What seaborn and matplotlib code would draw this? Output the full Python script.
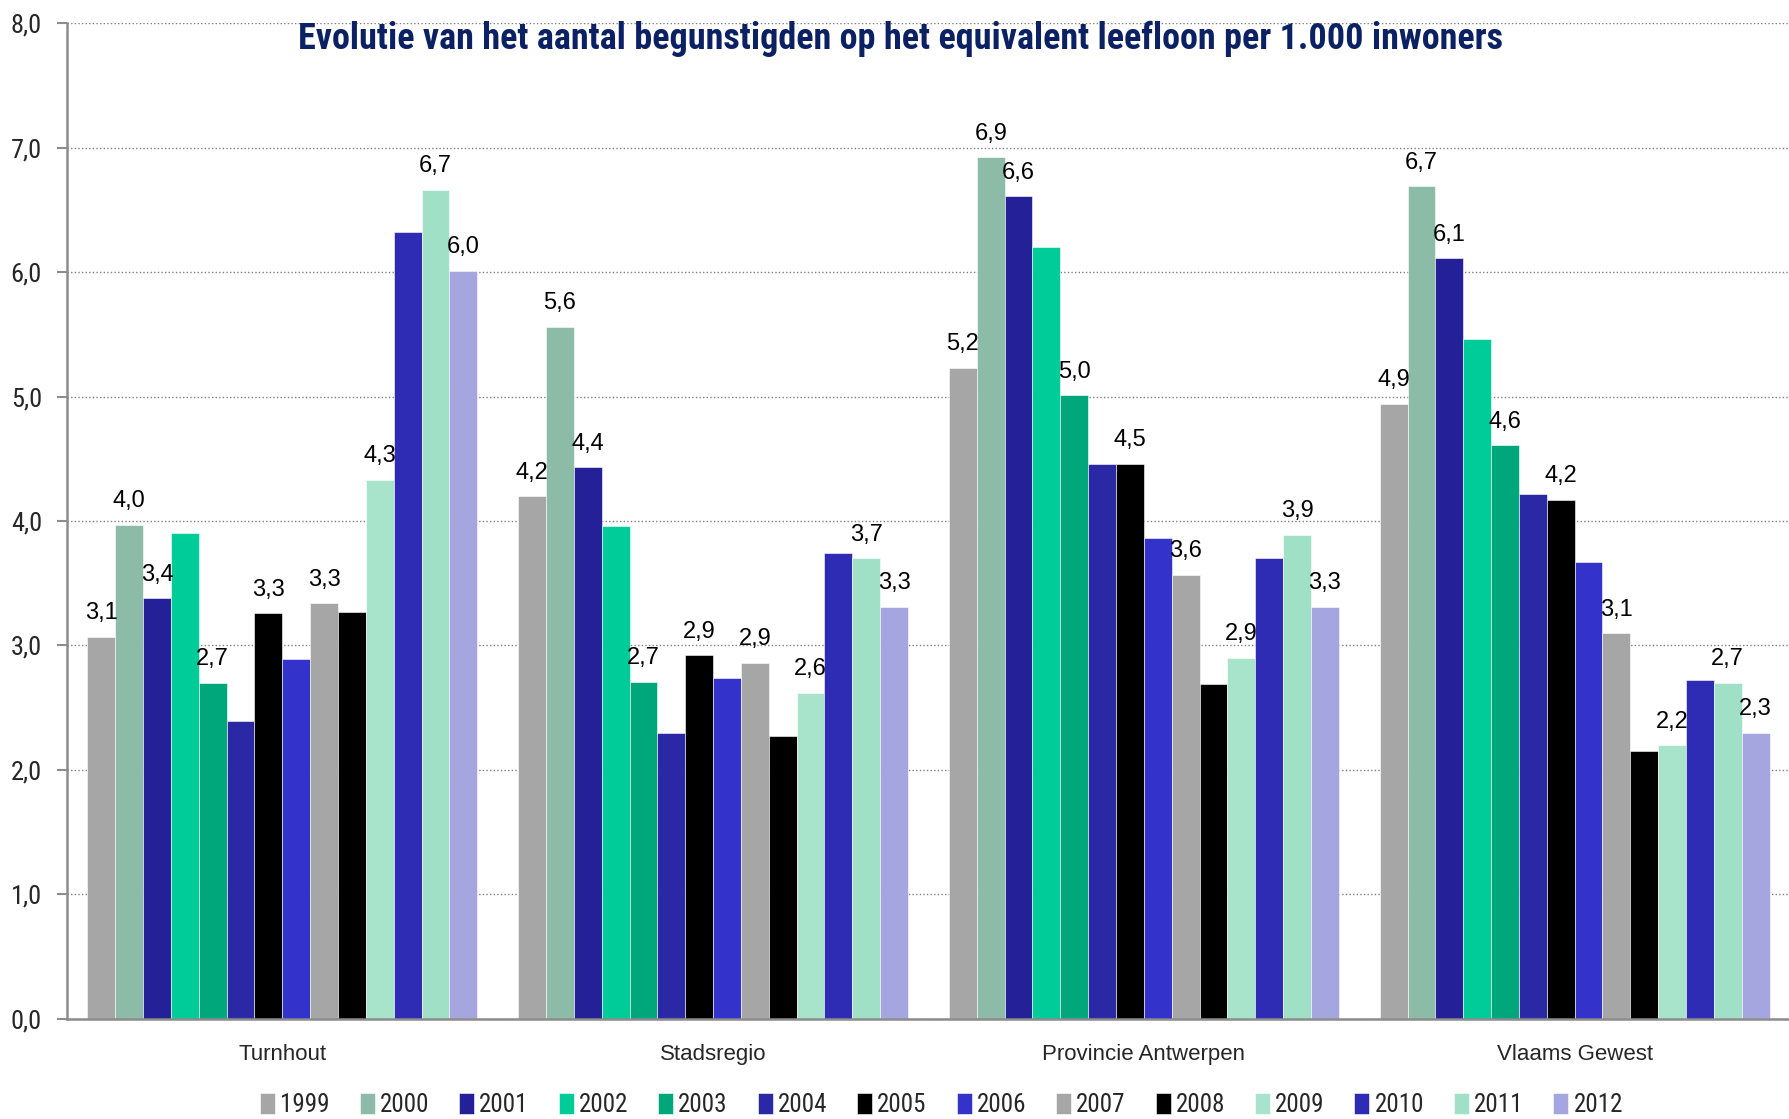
import pandas as pd
import matplotlib
matplotlib.use('Agg')
from matplotlib import pyplot as plt
from matplotlib import font_manager
import seaborn as sns

regios = ['Turnhout', 'Stadsregio', 'Provincie Antwerpen', 'Vlaams Gewest']
jaren = ['1999', '2000', '2001', '2002', '2003', '2004', '2005',
         '2006', '2007', '2008', '2009', '2010', '2011', '2012']

turnhout = [3.07, 3.97, 3.38, 3.90, 2.70, 2.39, 3.26, 2.89, 3.34, 3.27, 4.33, 6.32, 6.66, 6.01]
stadsregio = [4.20, 5.56, 4.43, 3.96, 2.71, 2.30, 2.92, 2.74, 2.86, 2.27, 2.62, 3.74, 3.70, 3.31]
provincie = [5.23, 6.92, 6.61, 6.20, 5.01, 4.46, 4.46, 3.86, 3.57, 2.69, 2.90, 3.70, 3.89, 3.31]
vlaanderen = [4.94, 6.69, 6.11, 5.46, 4.61, 4.22, 4.17, 3.67, 3.10, 2.15, 2.20, 2.72, 2.70, 2.30]

# years that get a value label in the original chart
gelabeld = ['1999', '2000', '2001', '2003', '2005', '2007', '2009', '2011', '2012']

kleuren = ['#A6A6A6', '#8CBBA8', '#232098', '#00CC99', '#00A77B', '#2B28A6', '#000000',
           '#3333CC', '#A6A6A6', '#000000', '#A8E3CB', '#2E2CB5', '#A0E0C6', '#A5A5DF']

rows = []
for regio, waarden in zip(regios, [turnhout, stadsregio, provincie, vlaanderen]):
    for jaar, w in zip(jaren, waarden):
        rows.append({'regio': regio, 'jaar': jaar, 'waarde': w})
df = pd.DataFrame(rows)

sns.set_style('white')

# narrow font for title, y ticks and legend (Arial Narrow look)
beschikbaar = {f.name for f in font_manager.fontManager.ttflist}
smal = 'Liberation Sans'
for kandidaat in ['Liberation Sans Narrow', 'Roboto Condensed', 'PT Sans Narrow', 'Archivo Narrow']:
    if kandidaat in beschikbaar:
        smal = kandidaat
        break
plt.rcParams['font.family'] = ['Liberation Sans', 'DejaVu Sans']

fig = plt.figure(figsize=(17.9, 11.19), dpi=100)
ax = fig.add_axes([0.0374, 0.0894, 0.9626, 0.89])

sns.barplot(data=df, x='regio', y='waarde', hue='jaar', palette=kleuren,
            width=0.905, saturation=1, ax=ax, legend=True,
            edgecolor='white', linewidth=0.4)

# value labels
for jaar, cont in zip(jaren, ax.containers):
    if jaar in gelabeld:
        labels = [('%.1f' % b.get_height()).replace('.', ',') for b in cont]
        ax.bar_label(cont, labels=labels, padding=9, fontsize=17, color='black')

ax.set_ylim(0, 8)
ax.set_xlim(-0.5, 3.5)
ax.set_yticks(range(0, 9))
ax.set_yticklabels([('%.1f' % v).replace('.', ',') for v in range(0, 9)],
                   fontsize=19, family=smal)
ax.yaxis.grid(True, linestyle=(0, (1, 1.6)), color='#7F7F7F', linewidth=1.0)
ax.set_axisbelow(True)

# ticks on the group boundaries, labels in the middle
ax.set_xticks([-0.5, 0.5, 1.5, 2.5, 3.5])
ax.set_xticklabels([])
ax.set_xticks([0, 1, 2, 3], minor=True)
ax.set_xticklabels(regios, minor=True, fontsize=16)
ax.tick_params(axis='x', which='minor', length=0, pad=18)
ax.tick_params(axis='x', which='major', length=7, width=1.5, color='#8C8C8C', direction='out')
ax.tick_params(axis='y', length=7, width=1.5, color='#8C8C8C', direction='out', left=True, pad=11)

ax.set_xlabel('')
ax.set_ylabel('')
for s in ['top', 'right']:
    ax.spines[s].set_visible(False)
for s in ['left', 'bottom']:
    ax.spines[s].set_color('#8C8C8C')
    ax.spines[s].set_linewidth(1.8)

fig.text(0.503, 0.965, 'Evolutie van het aantal begunstigden op het equivalent leefloon per 1.000 inwoners',
         ha='center', va='center', fontsize=26, fontweight='bold', color='#0B2163', family=smal)

handles, lbls = ax.get_legend_handles_labels()
ax.get_legend().remove()
fig.legend(handles, lbls, loc='center', bbox_to_anchor=(0.526, 0.0125), ncol=14,
           frameon=False, prop={'family': smal, 'size': 18},
           handlelength=0.6, handleheight=0.95, handletextpad=0.2, columnspacing=1.2)

plt.savefig('out.png', dpi=100)
